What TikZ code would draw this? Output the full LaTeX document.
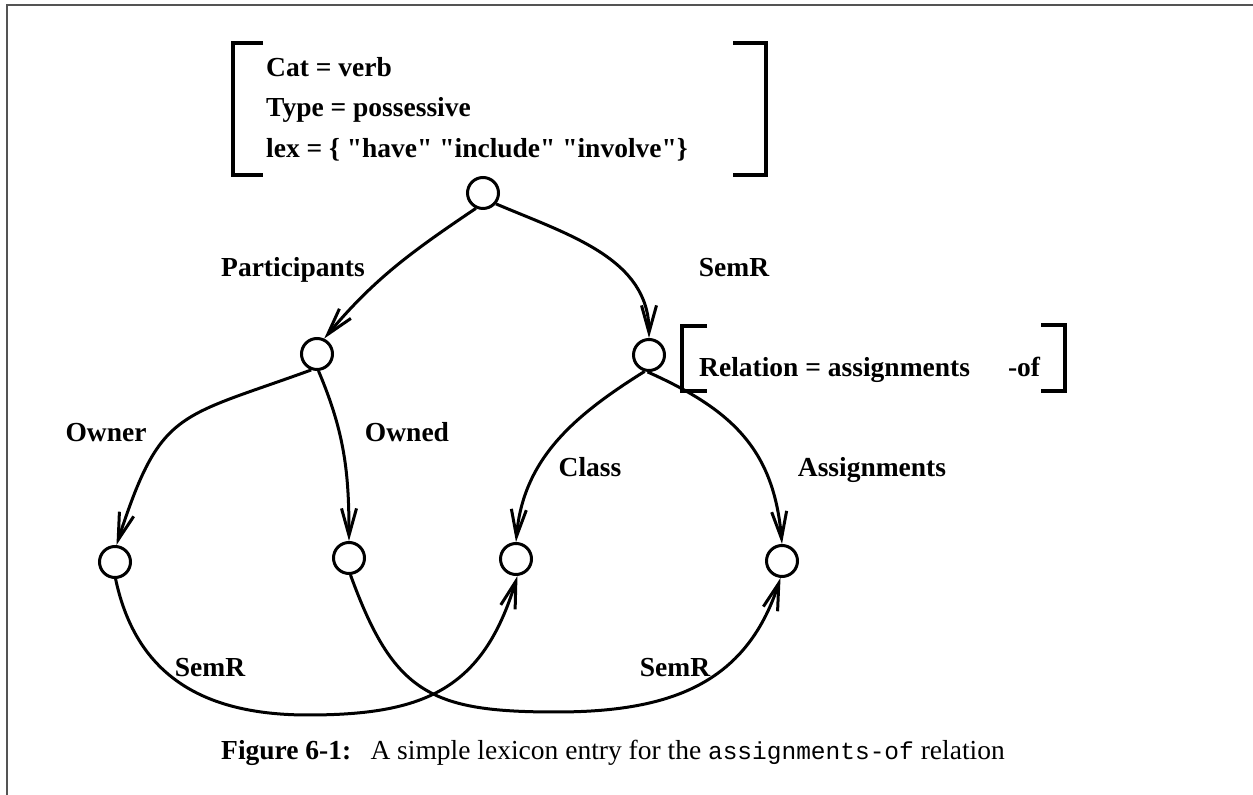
\documentclass[tikz,border=0pt]{standalone}
\usepackage{fontspec}
\setmainfont{Liberation Serif}
\setmonofont{Liberation Mono}
\usetikzlibrary{arrows.meta}

\begin{document}
\begin{tikzpicture}[x=1pt,y=1pt,
  state/.style={circle,draw,line width=3pt,minimum size=31pt,inner sep=0pt},
  link/.style={line width=3pt,-{Straight Barb[length=27pt,width=15pt,line width=3pt]}},
  lbl/.style={anchor=base,inner sep=0pt,font=\fontsize{27.5}{33}\selectfont\bfseries},
  avm/.style={anchor=base west,inner sep=0pt,font=\fontsize{27.5}{33}\selectfont\bfseries},
  bracket/.style={line width=3.5pt},
  frame/.style={draw=black!67,line width=2pt}]

  \useasboundingbox (0,0) rectangle (1253,795);
  \draw[frame] (7,0) -- (7,790) -- (1253,790);

  % feature structure of the verb
  \node[avm] (catline)  at (266,718) {Cat = verb};
  \node[avm] (typeline) at (266,678) {Type = possessive};
  \node[avm] (lexline)  at (266,637) {lex = \{ \textquotedbl have\textquotedbl{} \textquotedbl include\textquotedbl{} \textquotedbl involve\textquotedbl\}};
  \draw[bracket] (263,752) -- (233,752) -- (233,620) -- (263,620);
  \draw[bracket] (733,752) -- (766,752) -- (766,620) -- (733,620);

  % nodes
  \node[state] (root)  at (483,602) {};
  \node[state] (part)  at (317,441) {};
  \node[state] (semr)  at (649,440) {};
  \node[state] (owner) at (115,233) {};
  \node[state] (owned) at (349,237) {};
  \node[state] (cls)   at (516,236) {};
  \node[state] (asg)   at (782,234) {};

  % lowest points of the two SemR arcs
  \coordinate (lowleft)  at (308,80);
  \coordinate (lowright) at (556,83);

  % relation feature
  \node[avm] (relation) at (699,418) {Relation = assignments\hspace{38pt}-of};
  \draw[bracket] (707,469) -- (682,469) -- (682,404) -- (707,404);
  \draw[bracket] (1041,470) -- (1065,470) -- (1065,404) -- (1041,404);

  % arcs
  \draw[link] (root.-115) to[out=214,in=50] (part.65);
  \draw[link] (root.-40) to[out=-23,in=90] (semr.north);
  \draw[link] (part.-110) to[out=200,in=72,looseness=1.4] (owner.85);
  \draw[link] (part.-85) to[out=-67,in=90] (owned.north);
  \draw[link] (semr.-105) to[out=212,in=85] (cls.north);
  \draw[link] (semr.-95) to[out=-24,in=95,looseness=1.1] (asg.north);
  \draw[link] (owner.-88) to[out=-78,in=180,looseness=1.1] (lowleft)
                          to[out=0,in=-107,looseness=1.2] (cls.-85);
  \draw[link] (owned.-85) to[out=-70,in=180,looseness=1.3] (lowright)
                          to[out=0,in=-108,looseness=1.1] (asg.-95);

  % arc labels
  \node[lbl] (lparticipants) at (293,518) {Participants};
  \node[lbl] (lsemrtop)      at (734,518) {SemR};
  \node[lbl] (lowner)        at (106,353) {Owner};
  \node[lbl] (lowned)        at (407,353) {Owned};
  \node[lbl] (lclass)        at (590,318) {Class};
  \node[lbl] (lassign)       at (872,318) {Assignments};
  \node[lbl] (lsemrleft)     at (210,118) {SemR};
  \node[lbl] (lsemrright)    at (675,118) {SemR};

  % caption
  \node[anchor=base west,inner sep=0pt,font=\fontsize{27.5}{33}\selectfont] (caption) at (221,35)
    {\textbf{Figure 6-1:}\hspace{0.7em}A simple lexicon entry for the {\fontsize{24.5}{30}\selectfont\ttfamily assignments-of} relation};
\end{tikzpicture}
\end{document}
